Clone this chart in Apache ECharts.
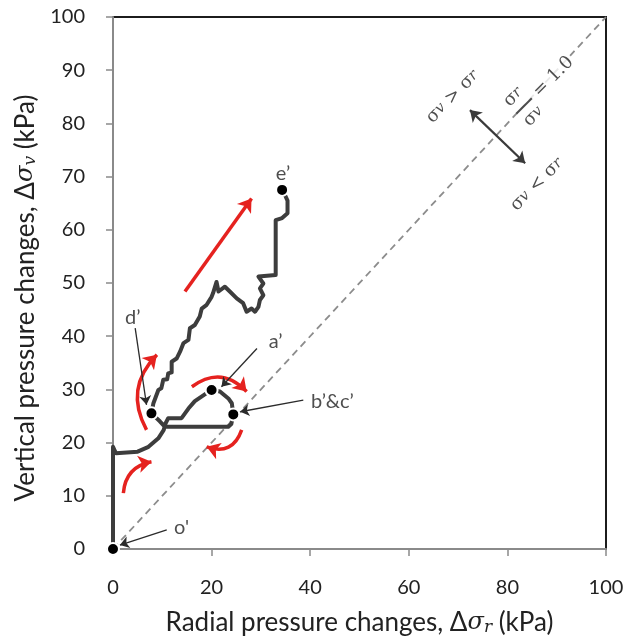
<!DOCTYPE html>
<html>
<head>
<meta charset="utf-8">
<script src="https://cdn.jsdelivr.net/npm/echarts@6/dist/echarts.min.js"></script>
<style>
  html, body { margin: 0; padding: 0; background: #fff; }
  #chart { width: 634px; height: 637px; }
</style>
</head>
<body>
<div id="chart"></div>
<script>
// stress path: radial change (x) and vertical change (y), kPa
const pathR = [0, 0, 0.6, 5.0, 7.2, 9.2, 10.3, 10.6, 11.2, 13.9, 15.3, 16.6, 18.7, 20.0,
  21.7, 23.4, 24.1, 24.4, 24.0, 23.4, 10.5, 9.5, 7.8,
  8.2, 9.2, 9.8, 10.2, 11.0, 11.2, 11.9, 11.9, 12.9, 13.6, 14.3, 15.3, 15.6, 16.6, 17.6, 18.0,
  19.0, 20.0, 20.3, 21.0, 21.4, 22.7, 23.7, 25.1, 26.4, 27.1, 28.1, 28.8, 29.5, 29.8, 30.5,
  29.8, 30.5, 29.5, 33.0, 33.0, 34.3, 35.4, 35.4, 34.9, 34.3];
const pathV = [0, 19.2, 18.0, 18.3, 19.2, 20.8, 22.4, 23.5, 24.6, 24.6, 26.4, 27.8, 29.1, 29.9,
  29.6, 28.3, 27.4, 25.3, 23.5, 23.0, 23.0, 24.0, 25.5,
  27.4, 29.9, 30.2, 31.8, 31.9, 33.0, 33.2, 35.2, 35.8, 37.1, 38.7, 39.3, 41.5, 42.1, 43.7, 45.2,
  45.9, 47.4, 48.1, 50.2, 48.4, 49.3, 48.4, 47.1, 46.2, 44.6, 45.2, 44.6, 45.5, 46.8, 47.7,
  49.0, 49.9, 51.2, 51.5, 61.8, 62.2, 63.1, 65.5, 66.5, 67.5];

// marked states on the path
const pointR = [0, 20.0, 24.4, 7.8, 34.3];
const pointV = [0, 29.9, 25.3, 25.5, 67.5];

// state names and where they are written
const labelText = ["o'", 'a’', 'b’&c’', 'd’', 'e’'];
const labelR = [13.9, 33.0, 44.5, 4.0, 34.5];
const labelV = [4.1, 39.0, 27.7, 43.5, 70.5];

// black pointers from the names to the states
const pointerFrom = [[10.9, 3.6], [29.2, 37.7], [38.6, 28.0], [4.5, 41.5]];
const pointerTo = [[1.4, 0.75], [22.0, 30.5], [25.8, 25.8], [6.8, 27.1]];

// red loading-direction arrows
const redFrom = [[14.6, 48.4], [2.1, 10.5], [6.8, 22.4], [16.0, 30.5], [26.1, 22.4]];
const redTo = [[28.1, 65.9], [7.8, 16.4], [8.9, 36.5], [27.1, 29.6], [19.0, 19.2]];
const redBend = [0, 0.38, 0.37, 0.44, 0.5];

// K = 1 line and the stress-ratio note
const kLine = [[0, 0], [100, 100]];
const ratioArrow = [[72.4, 82.5], [83.6, 72.5]];

const xTicks = { min: 0, max: 100, step: 20 };
const yTicks = { min: 0, max: 100, step: 10 };

const ink = '#222';
const sans = 'Lato, "Open Sans", sans-serif';
const serif = '"DejaVu Serif", "Liberation Serif", serif';

const nameRich = {
  t: { fontFamily: sans, fontSize: 26, color: ink },
  s: { fontFamily: serif, fontStyle: 'italic', fontSize: 24, color: ink },
  sub: { fontFamily: serif, fontStyle: 'italic', fontSize: 17, color: ink, padding: [10, 0, 0, 0] }
};
const sigRich = {
  g: { fontFamily: serif, fontSize: 18, lineHeight: 14, color: ink },
  b: { fontFamily: serif, fontStyle: 'italic', fontSize: 15, lineHeight: 6, verticalAlign: 'bottom', color: ink },
  o: { fontFamily: serif, fontSize: 18, lineHeight: 14, color: ink },
  bar: { width: 22, height: 2, backgroundColor: ink, fontSize: 1 },
  eq: { fontFamily: serif, fontSize: 18, lineHeight: 14, color: ink }
};

const chart = echarts.init(document.getElementById('chart'));

const axisCommon = {
  type: 'value',
  axisLine: { show: true, onZero: false, lineStyle: { color: '#8a8a8a', width: 2 } },
  axisTick: { show: true, inside: false, length: 7, lineStyle: { color: '#8a8a8a', width: 1.5 } },
  splitLine: { show: false },
  nameLocation: 'middle'
};

chart.setOption({
  animation: false,
  backgroundColor: '#fff',
  grid: {
    left: 113, right: 28, top: 17, bottom: 88, outerBoundsMode: 'none',
    show: true, borderColor: '#1c1c1c', borderWidth: 2
  },
  xAxis: Object.assign({}, axisCommon, {
    min: xTicks.min, max: xTicks.max, interval: xTicks.step,
    axisLabel: { fontFamily: sans, fontSize: 20, color: ink, margin: 29 },
    name: '{t|Radial pressure changes, Δ}{s|σ}{sub|r}{t| (kPa)}',
    nameGap: 60,
    nameTextStyle: { rich: nameRich }
  }),
  yAxis: Object.assign({}, axisCommon, {
    min: yTicks.min, max: yTicks.max, interval: yTicks.step,
    axisLabel: { fontFamily: sans, fontSize: 20, color: ink, margin: 28 },
    name: '{t|Vertical pressure changes, Δ}{s|σ}{sub|v}{t| (kPa)}',
    nameRotate: 90,
    nameGap: 66,
    nameTextStyle: { rich: nameRich, padding: [0, 30, 0, 0] }
  }),
  series: [
    {
      type: 'line', data: kLine, symbol: 'none', silent: true, z: 1,
      lineStyle: { color: '#8c8c8c', width: 1.8, type: [7, 5] }
    },
    {
      type: 'line', data: pathR.map((r, i) => [r, pathV[i]]), symbol: 'none', z: 2,
      lineStyle: { color: '#3d3d3d', width: 4, join: 'round', cap: 'round' }
    },
    {
      type: 'scatter', data: pointR.map((r, i) => [r, pointV[i]]), z: 4,
      symbolSize: 12, itemStyle: { color: '#000', borderColor: '#fff', borderWidth: 2, opacity: 1 }
    },
    {
      type: 'lines', coordinateSystem: 'cartesian2d', z: 5,
      symbol: ['none', 'arrow'], symbolSize: 13,
      lineStyle: { color: '#e5221f', width: 3.5, opacity: 1 },
      data: redFrom.map((p, i) => ({ coords: [p, redTo[i]], lineStyle: { curveness: redBend[i] } }))
    },
    {
      type: 'lines', coordinateSystem: 'cartesian2d', z: 5,
      symbol: ['none', 'arrow'], symbolSize: 9,
      lineStyle: { color: '#2b2b2b', width: 1.3, opacity: 1 },
      data: pointerFrom.map((p, i) => ({ coords: [p, pointerTo[i]] }))
    },
    {
      type: 'lines', coordinateSystem: 'cartesian2d', z: 5,
      symbol: ['arrow', 'arrow'], symbolSize: 11,
      lineStyle: { color: '#3a3a3a', width: 2.2, opacity: 1 },
      data: [{ coords: ratioArrow }]
    },
    {
      type: 'scatter', z: 6, symbolSize: 0, silent: true,
      data: labelText.map((t, i) => ({ value: [labelR[i], labelV[i]], name: t })),
      label: {
        show: true, position: 'inside', formatter: p => p.name,
        fontFamily: sans, fontSize: 20, color: ink
      }
    },
    {
      type: 'scatter', z: 6, symbolSize: 0, silent: true,
      data: [
        { value: [68.9, 85.0], label: { formatter: '{g|σ}{b|v}{o| > }{g|σ}{b|r}' } },
        { value: [86.0, 68.5], label: { formatter: '{g|σ}{b|v}{o| < }{g|σ}{b|r}' } },
        {
          value: [81.8, 81.8],
          label: {
            formatter: '{g|σ}{b|r}\n{bar| }{eq| = 1.0}\n{g|σ}{b|v}',
            align: 'left', backgroundColor: '#fff', padding: [3, 2, 3, 0]
          }
        }
      ],
      label: { show: true, position: 'inside', rotate: 45, rich: sigRich, color: ink }
    }
  ]
});
</script>
</body>
</html>
